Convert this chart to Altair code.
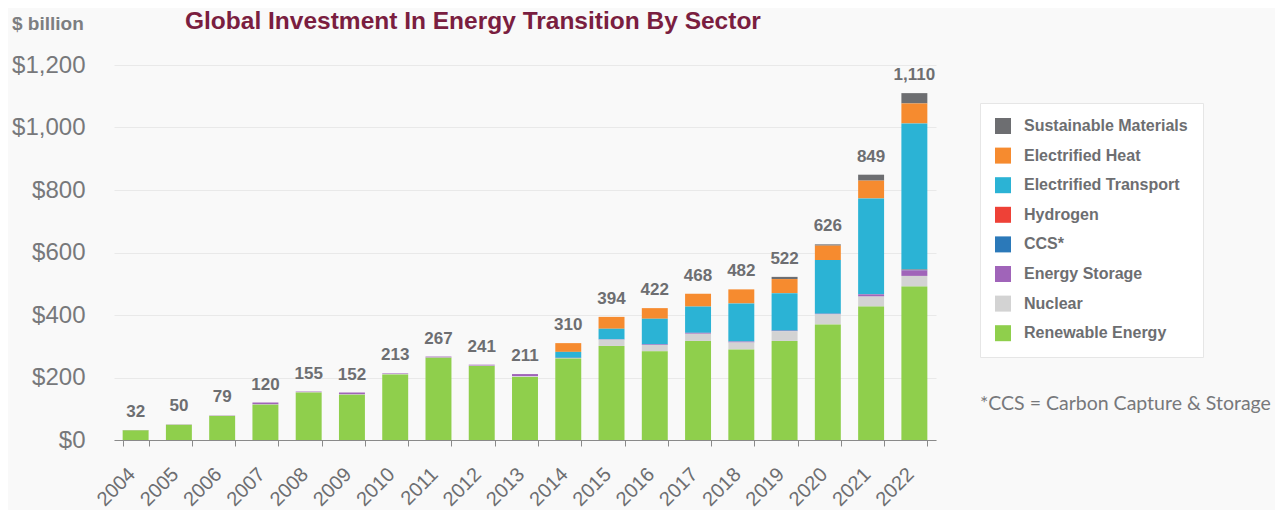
import altair as alt
import pandas as pd

years = [str(y) for y in range(2004, 2023)]

renewable = [31, 49, 77, 113, 152, 145, 210, 263, 237, 202, 261, 301, 284, 317, 290, 317, 370, 427, 491]
nuclear = [0, 0, 1, 1, 1, 1, 1, 1, 1, 2, 1, 20, 20, 23, 22, 31, 32, 32, 34]
energy_storage = [1, 1, 1, 6, 2, 6, 2, 3, 3, 7, 1, 1, 2, 3, 3, 2, 2, 7, 18]
ccs = [0, 0, 0, 0, 0, 0, 0, 0, 0, 0, 0, 0, 0, 0, 0, 0, 0, 1, 1]
hydrogen = [0, 0, 0, 0, 0, 0, 0, 0, 0, 0, 0, 0, 0, 0, 0, 0, 0, 0, 1]
electrified_transport = [0, 0, 0, 0, 0, 0, 0, 0, 0, 0, 19, 34, 82, 84, 122, 120, 172, 306, 468]
electrified_heat = [0, 0, 0, 0, 0, 0, 0, 0, 0, 0, 28, 38, 34, 41, 45, 45, 46, 57, 64]
sustainable_materials = [0, 0, 0, 0, 0, 0, 0, 0, 0, 0, 0, 0, 0, 0, 0, 7, 4, 19, 33]

totals = [32, 50, 79, 120, 155, 152, 213, 267, 241, 211, 310, 394, 422, 468, 482, 522, 626, 849, 1110]

sector_names = ["Sustainable Materials", "Electrified Heat", "Electrified Transport",
                "Hydrogen", "CCS*", "Energy Storage", "Nuclear", "Renewable Energy"]
sector_colors = ["#6d6e71", "#f68b2f", "#2bb3d5", "#ee4137", "#2b79b9", "#a064b9", "#d3d3d3", "#8fcf4c"]
y_ticks = [0, 200, 400, 600, 800, 1000, 1200]

series = {
    "Sustainable Materials": sustainable_materials,
    "Electrified Heat": electrified_heat,
    "Electrified Transport": electrified_transport,
    "Hydrogen": hydrogen,
    "CCS*": ccs,
    "Energy Storage": energy_storage,
    "Nuclear": nuclear,
    "Renewable Energy": renewable,
}

rows = []
for i, yr in enumerate(years):
    for k, name in enumerate(sector_names):
        rows.append({"year": yr, "sector": name, "value": series[name][i],
                     "stack_order": len(sector_names) - 1 - k})
df = pd.DataFrame(rows)
tot_df = pd.DataFrame({"year": years, "total": totals})

FONT = "Liberation Sans"
GRAY = "#6d6e71"

x_enc = alt.X("year:N", sort=years,
              scale=alt.Scale(paddingInner=0.4, paddingOuter=0.2),
              axis=alt.Axis(title=None, labelAngle=-45, labelAlign="right", labelBaseline="middle",
                            labelFontSize=20, labelColor=GRAY, labelFont=FONT, labelPadding=25,
                            labelOffset=-4,
                            tickBand="extent", tickSize=6, tickColor="#8a8a8a",
                            domainColor="#8a8a8a", grid=False))

bars = alt.Chart(df).mark_bar().encode(
    x=x_enc,
    y=alt.Y("value:Q", stack="zero",
            scale=alt.Scale(domain=[0, 1200], nice=False),
            axis=alt.Axis(title=None, values=y_ticks,
                          labelExpr="'$' + format(datum.value, ',')",
                          labelFontSize=24, labelColor="#77787b", labelFont=FONT,
                          labelPadding=29, domain=False, ticks=False,
                          grid=True, gridColor="#e9e9e9")),
    color=alt.Color("sector:N",
                    scale=alt.Scale(domain=sector_names, range=sector_colors),
                    legend=alt.Legend(title=None, orient="none", legendX=866, legendY=38,
                                      fillColor="#ffffff", strokeColor="#e6e6e6",
                                      padding=15, symbolType="square", symbolSize=256,
                                      symbolStrokeWidth=0, labelFont=FONT, labelFontSize=16,
                                      labelFontWeight="bold", labelColor=GRAY,
                                      labelOffset=13, rowPadding=13.6, labelLimit=250)),
    order=alt.Order("stack_order:Q", sort="ascending"),
)

labels = alt.Chart(tot_df).mark_text(
    dy=-9, baseline="bottom", fontWeight="bold", fontSize=17, color=GRAY, font=FONT
).encode(
    x=alt.X("year:N", sort=years),
    y=alt.Y("total:Q"),
    text=alt.Text("total:Q", format=","),
)

title_txt = alt.Chart(alt.Data(values=[{"t": "Global Investment In Energy Transition By Sector"}])).mark_text(
    align="left", baseline="middle", fontSize=24.5, fontWeight="bold", color="#7a1e40", font=FONT
).encode(x=alt.value(71), y=alt.value(-43.5), text="t:N")

unit_txt = alt.Chart(alt.Data(values=[{"t": "$ billion"}])).mark_text(
    align="left", baseline="middle", fontSize=19, fontWeight="bold", color="#7d7e81", font=FONT
).encode(x=alt.value(-102), y=alt.value(-41), text="t:N")

note_txt = alt.Chart(alt.Data(values=[{"t": "*CCS = Carbon Capture & Storage"}])).mark_text(
    align="left", baseline="middle", fontSize=19.5, color="#77787b", font="Lato"
).encode(x=alt.value(866), y=alt.value(339), text="t:N")

chart = alt.layer(bars, labels, title_txt, unit_txt, note_txt).properties(
    width=822, height=375,
    autosize=alt.AutoSizeParams(type="none"),
    padding={"left": 106, "top": 57, "right": 339, "bottom": 70},
    background="#f9f9f9",
).configure_view(stroke=None)

chart.save("out.html", embed_options={"renderer": "svg", "actions": False})
